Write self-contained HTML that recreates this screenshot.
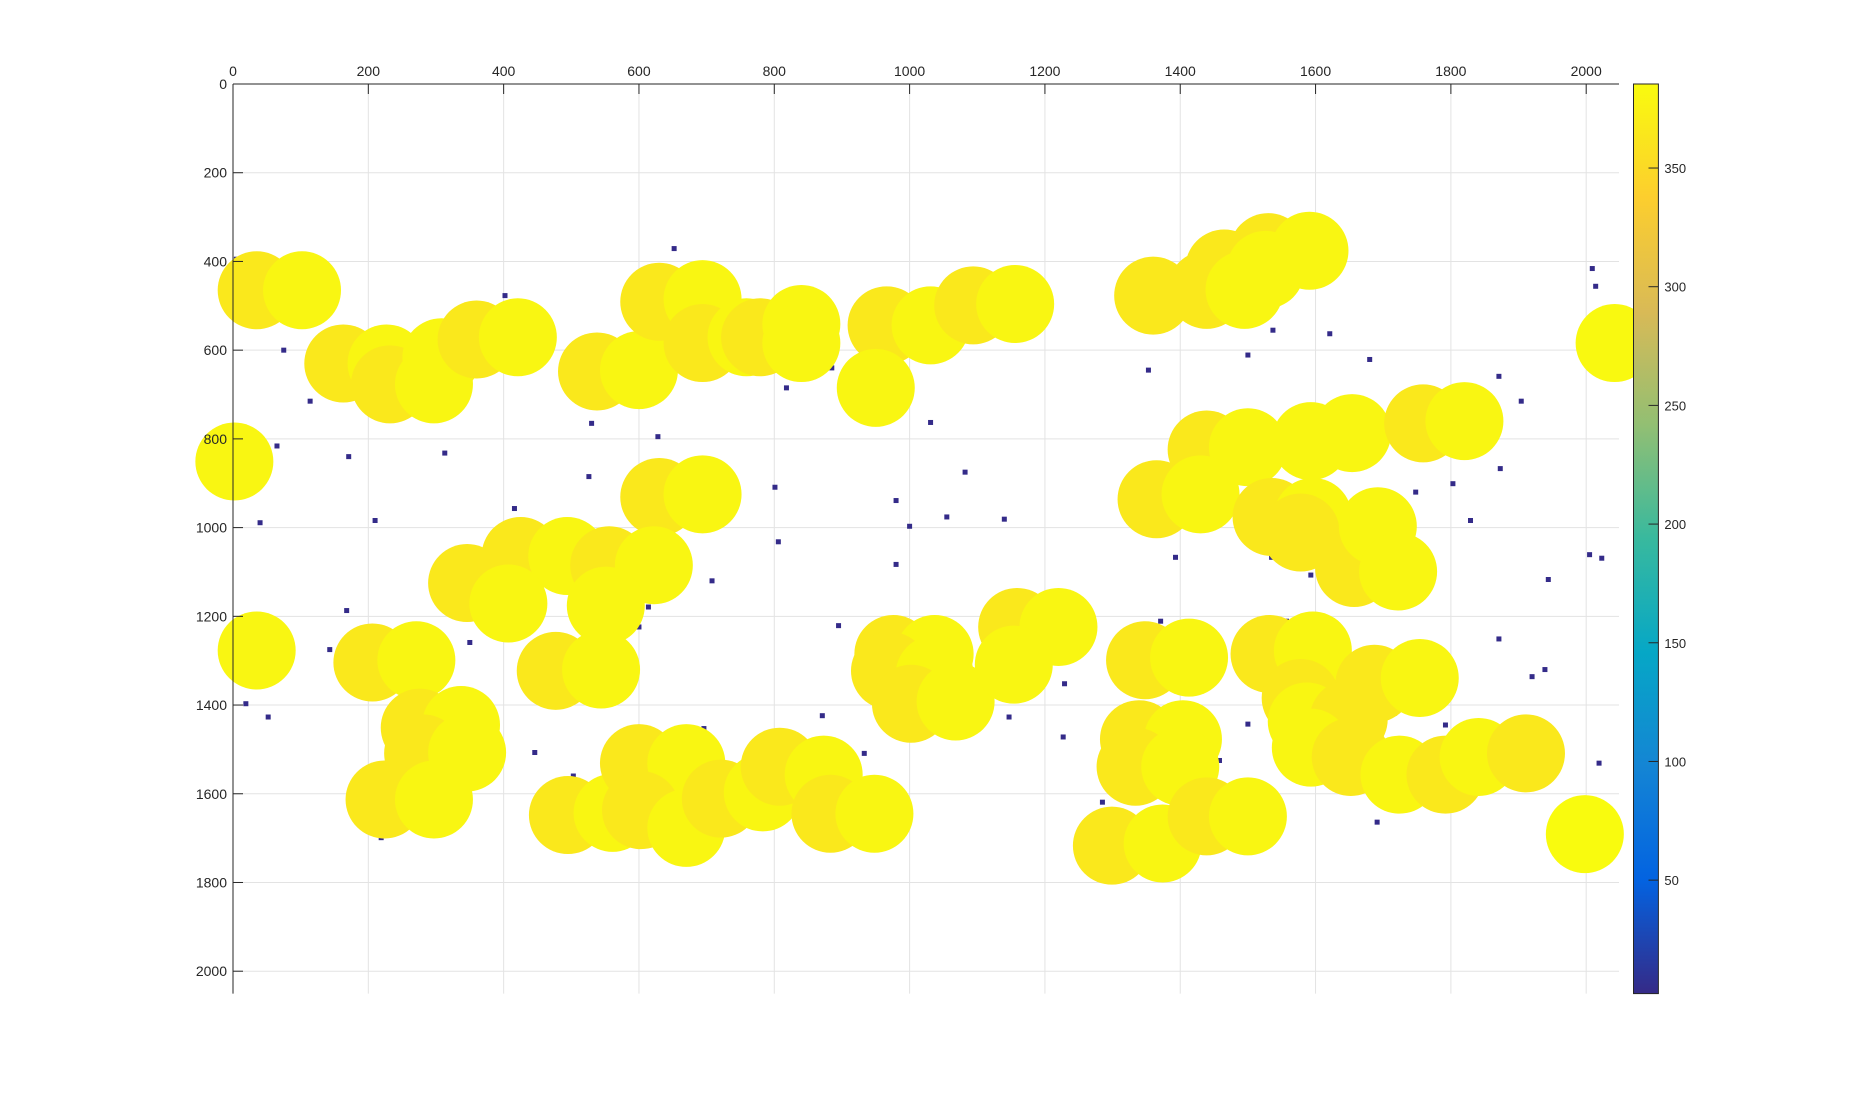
<!DOCTYPE html>
<html><head><meta charset="utf-8"><style>
html,body{margin:0;padding:0;background:#fff;}
svg{display:block;font-family:"Liberation Sans",sans-serif;}
</style></head><body>
<svg id="chart" width="1855" height="1117"></svg>
<script>
// data arrays
const xTicks=[0,200,400,600,800,1000,1200,1400,1600,1800,2000];
const yTicks=[0,200,400,600,800,1000,1200,1400,1600,1800,2000];
const cbTicks=[50,100,150,200,250,300,350];
const bigX=[35,102,163,227,232,297,308,360,421,538,600,630,694,694,759,779,840,840,966,1031,1094,1156,950,2,630,694,1360,1439,1465,1530,1495,1526,1591,2042,1439,1500,1593,1654,1759,1820,1365,1430,1535,1596,1578,1657,1692,1722,425,494,556,622,346,407,551,35,206,271,477,544,276,337,281,346,224,297,495,561,600,670,603,670,721,783,808,873,883,948,976,1037,971,1037,1002,1068,1159,1220,1154,1348,1413,1339,1404,1334,1400,1299,1374,1439,1500,1532,1596,1687,1754,1578,1587,1649,1593,1652,1724,1792,1841,1911,1998];
const bigY=[465,465,630,630,677,677,616,576,571,648,645,491,485,584,571,571,541,584,544,544,499,496,685,851,931,925,477,464,416,379,464,419,376,584,824,819,805,787,765,760,936,925,976,976,1011,1091,997,1099,1064,1064,1085,1085,1125,1171,1176,1277,1304,1299,1323,1320,1451,1445,1509,1507,1613,1613,1648,1643,1531,1531,1637,1677,1611,1597,1539,1557,1645,1645,1285,1285,1323,1331,1397,1392,1224,1224,1309,1299,1293,1477,1477,1539,1539,1717,1712,1651,1651,1285,1277,1352,1339,1384,1437,1432,1496,1517,1557,1557,1517,1509,1691];
const bigV=[365,380,365,380,365,380,380,365,380,365,380,365,380,365,380,365,380,380,365,380,365,380,380,380,365,380,365,365,365,365,380,380,380,383,365,380,380,380,365,380,365,380,365,380,365,365,380,380,365,380,365,380,365,380,380,380,365,380,365,380,365,380,365,380,365,380,365,380,365,380,365,380,365,380,365,380,365,380,365,380,365,380,365,380,365,380,380,365,380,365,380,365,380,365,380,365,380,365,380,365,380,365,380,365,380,365,380,365,380,365];
const dotX=[5,652,402,75,114,220,65,171,313,530,628,526,416,439,40,210,801,806,818,885,972,1031,1082,980,1000,1055,1140,980,708,329,168,143,350,600,614,895,1177,1229,1000,1147,1227,871,696,617,825,933,446,503,486,219,19,52,1285,1318,1448,1458,1500,1691,1792,1709,2019,1939,1920,1871,1671,1557,1371,1393,1496,1535,1593,1944,2005,2023,1829,1748,1803,1873,1904,1871,1680,1621,1537,1500,1353,1325,1411,2009,2014,1344];
const dotY=[395,371,477,600,715,725,816,840,832,765,795,885,957,1003,989,984,909,1032,685,640,584,763,875,939,997,976,981,1083,1120,1123,1187,1275,1259,1224,1179,1221,1157,1352,1413,1427,1472,1424,1453,1467,1488,1509,1507,1560,1611,1699,1397,1427,1619,1651,1597,1525,1443,1664,1445,1512,1531,1320,1336,1251,1291,1211,1211,1067,1029,1067,1107,1117,1061,1069,984,920,901,867,715,659,621,563,555,611,645,440,453,416,456,915];

const NS='http://www.w3.org/2000/svg';
const svg=document.getElementById('chart');
const L=233,T=84,R=1619,B=993.6;
const sx=0.6766,sy=0.4436;
const X=v=>L+v*sx, Y=v=>T+v*sy;
function mk(tag,attrs,parent){const e=document.createElementNS(NS,tag);for(const k in attrs)e.setAttribute(k,attrs[k]);(parent||svg).appendChild(e);return e;}
const stops=[[0,'#352a87'],[0.125,'#0363e1'],[0.25,'#1485d4'],[0.375,'#06a7c6'],[0.5,'#38b99e'],[0.625,'#92bf73'],[0.75,'#d9ba56'],[0.875,'#fcce2e'],[1,'#f9fb0e']];
const cmin=2.2,cmax=385.4;
function hex(h){return [1,3,5].map(i=>parseInt(h.substr(i,2),16));}
function cmap(v){let t=(v-cmin)/(cmax-cmin);t=Math.max(0,Math.min(1,t));for(let i=1;i<stops.length;i++){if(t<=stops[i][0]){const a=hex(stops[i-1][1]),b=hex(stops[i][1]);const f=(t-stops[i-1][0])/(stops[i][0]-stops[i-1][0]);return 'rgb('+a.map((c,j)=>Math.round(c+(b[j]-c)*f)).join(',')+')';}}return stops[8][1];}

// grid
const grid=mk('g',{},svg);


xTicks.forEach(t=>{const l=mk('line',{x1:X(t),x2:X(t),y1:T,y2:B,stroke:'#e3e3e3','stroke-width':1},grid);

});
yTicks.forEach(t=>{const l=mk('line',{x1:L,x2:R,y1:Y(t),y2:Y(t),stroke:'#e3e3e3','stroke-width':1},grid);

});

// points
const pts=mk('g',{},svg);


dotX.forEach((x,i)=>{const r=mk('rect',{x:X(x)-2.5,y:Y(dotY[i])-2.5,width:5,height:5,fill:cmap(3)},pts);

});
bigX.forEach((x,i)=>{const c=mk('circle',{cx:X(x),cy:Y(bigY[i]),r:39,fill:cmap(bigV[i])},pts);

});

// axes
const ax=mk('g',{},svg);


mk('line',{x1:L,x2:R,y1:T,y2:T,stroke:'#262626'},ax);
mk('line',{x1:L,x2:L,y1:T,y2:B,stroke:'#262626'},ax);
xTicks.forEach(t=>{mk('line',{x1:X(t),x2:X(t),y1:T,y2:T+10,stroke:'#262626'},ax);
const tx=mk('text',{x:X(t),y:T-8,'text-anchor':'middle','font-size':14,fill:'#262626'},ax);tx.textContent=t;

});
yTicks.forEach(t=>{mk('line',{x1:L,x2:L+10,y1:Y(t),y2:Y(t),stroke:'#262626'},ax);
const tx=mk('text',{x:L-6,y:Y(t)+5,'text-anchor':'end','font-size':14,fill:'#262626'},ax);tx.textContent=t;

});

// colorbar
const cb=mk('g',{},svg);


const CL=1633.5,CR=1658.4,CT=84,CB=993.6;
const defs=mk('defs',{},svg);
const lg=mk('linearGradient',{id:'pg',x1:0,y1:1,x2:0,y2:0},defs);
stops.forEach(s=>mk('stop',{offset:s[0],'stop-color':s[1]},lg));
mk('rect',{x:CL,y:CT,width:CR-CL,height:CB-CT,fill:'url(#pg)',stroke:'#262626','stroke-width':1},cb);
const CY=v=>CB-(v-cmin)/(cmax-cmin)*(CB-CT);
cbTicks.forEach(t=>{mk('line',{x1:CL+15,x2:CR,y1:CY(t),y2:CY(t),stroke:'#262626'},cb);
const tx=mk('text',{x:CR+6,y:CY(t)+5,'font-size':13,fill:'#262626'},cb);tx.textContent=t;

});
</script>
</body></html>
